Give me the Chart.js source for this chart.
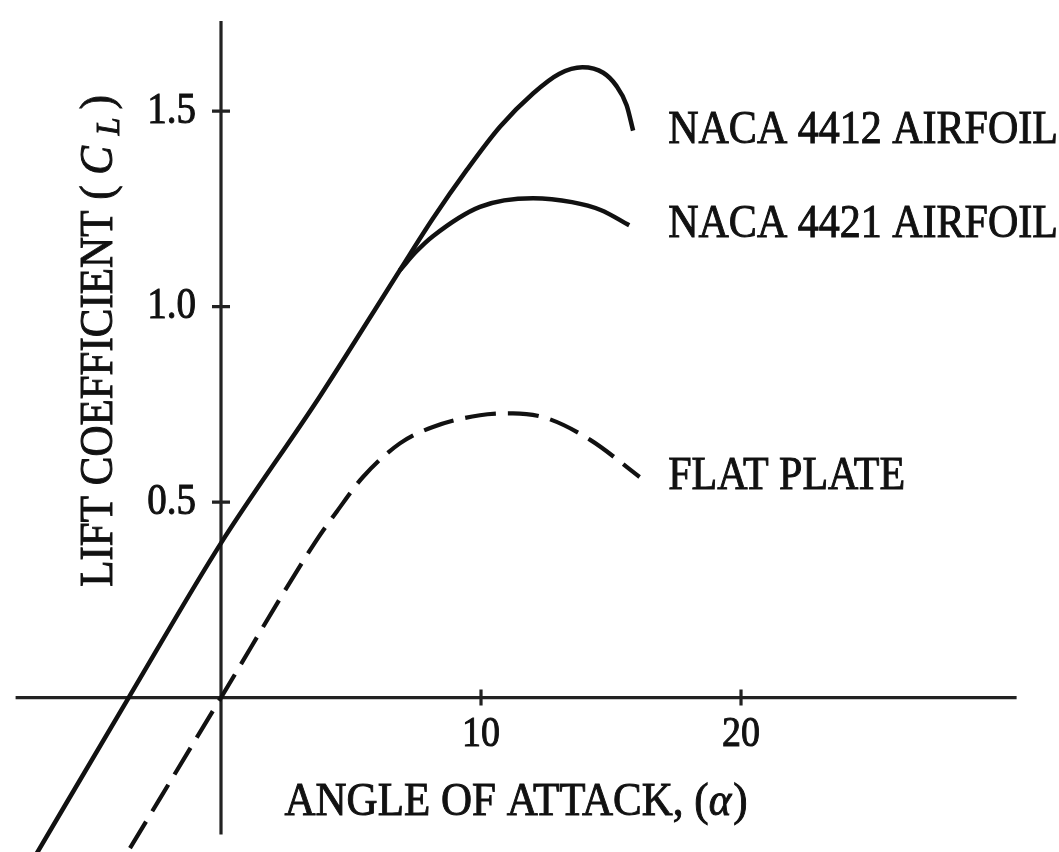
<!DOCTYPE html>
<html>
<head>
<meta charset="utf-8">
<script src="https://cdn.jsdelivr.net/npm/chart.js@4.4.0/dist/chart.umd.min.js"></script>
<style>
  html, body { margin: 0; padding: 0; background: #fff; }
  #wrap { width: 1059px; height: 852px; }
</style>
</head>
<body>
<div id="wrap"><canvas id="c"></canvas></div>
<script>
// values: angle of attack (deg) vs lift coefficient
const naca4412Alpha = [-7.1, -3.55, 0, 3.8, 6.88, 8.15, 9.46, 10.73, 12.0, 13.0, 13.9, 14.7, 15.2, 15.6, 15.85];
const naca4412Cl    = [-0.40, 0, 0.395, 0.77, 1.093, 1.225, 1.35, 1.46, 1.545, 1.595, 1.612, 1.598, 1.565, 1.515, 1.45];

const naca4421Alpha = [6.88, 7.5, 8.15, 9.96, 12.0, 13.5, 14.6, 15.7];
const naca4421Cl    = [1.093, 1.14, 1.18, 1.255, 1.277, 1.267, 1.247, 1.208];

const flatPlateAlpha = [-3.5, 0, 3.6, 4.5, 5.46, 6.88, 8.15, 9.96, 11.23, 12.5, 14.2, 16.1];
const flatPlateCl    = [-0.385, 0, 0.395, 0.48, 0.564, 0.65, 0.692, 0.722, 0.727, 0.715, 0.659, 0.564];

const seriesNames = ['NACA 4412 AIRFOIL', 'NACA 4421 AIRFOIL', 'FLAT PLATE'];
const xTicks = [10, 20];
const xTickLabels = ['10', '20'];
const yTicks = [0.5, 1.0, 1.5];
const yTickLabels = ['0.5', '1.0', '1.5'];

// how far the drawn axis lines run, in data units
const xAxisSpan = [-7.9, 30.6];
const yAxisSpan = [-0.35, 1.73];
const labelAlpha = 17.2; // curve names start here

const FONT = '"Liberation Serif", "Times New Roman", serif';
const INK = '#111';

const toPoints = (xs, ys) => xs.map((x, i) => ({ x, y: ys[i] }));

// scanned print look: a little taller and heavier than plain canvas text
function drawText(ctx, str, px, py, size, align, sy, italic) {
  ctx.save();
  ctx.translate(px, py);
  ctx.scale(1, sy || 1);
  ctx.font = (italic ? 'italic ' : '') + size + 'px ' + FONT;
  ctx.textAlign = align;
  ctx.textBaseline = 'middle';
  ctx.lineWidth = 0.9;
  ctx.strokeStyle = INK;
  ctx.fillText(str, 0, 0);
  ctx.strokeText(str, 0, 0);
  ctx.restore();
}

// axes through the origin with cross ticks, plus the hand placed texts
const sketchAxes = {
  id: 'sketchAxes',
  beforeDatasetsDraw(chart) {
    const { ctx, scales: { x, y } } = chart;
    const x0 = x.getPixelForValue(0);
    const y0 = y.getPixelForValue(0);

    ctx.save();
    ctx.strokeStyle = '#222';
    ctx.lineWidth = 3.2;
    ctx.beginPath();
    ctx.moveTo(x.getPixelForValue(xAxisSpan[0]), y0);
    ctx.lineTo(x.getPixelForValue(xAxisSpan[1]), y0);
    ctx.moveTo(x0, y.getPixelForValue(yAxisSpan[0]));
    ctx.lineTo(x0, y.getPixelForValue(yAxisSpan[1]));
    xTicks.forEach(t => {
      const px = x.getPixelForValue(t);
      ctx.moveTo(px, y0 - 8);
      ctx.lineTo(px, y0 + 8);
    });
    yTicks.forEach(t => {
      const py = y.getPixelForValue(t);
      ctx.moveTo(x0 - 9, py);
      ctx.lineTo(x0 + 9, py);
    });
    ctx.stroke();

    ctx.fillStyle = INK;
    xTicks.forEach((t, i) => drawText(ctx, xTickLabels[i], x.getPixelForValue(t), y0 + 37, 38, 'center', 1.1));
    yTicks.forEach((t, i) => drawText(ctx, yTickLabels[i], x0 - 25, y.getPixelForValue(t), 39, 'right', 1.15));

    // x title: "ANGLE OF ATTACK, (α)"
    ctx.font = '43px ' + FONT;
    const a = 'ANGLE OF ATTACK, (';
    const wa = ctx.measureText(a).width;
    ctx.font = 'italic 43px ' + FONT;
    const wb = ctx.measureText('α').width;
    ctx.font = '43px ' + FONT;
    const wc = ctx.measureText(')').width;
    let sx = 515 - (wa + wb + wc) / 2;
    drawText(ctx, a, sx, 803, 43, 'left', 1.08);
    drawText(ctx, 'α', sx + wa, 803, 43, 'left', 1.08, true);
    drawText(ctx, ')', sx + wa + wb + 2, 803, 43, 'left', 1.08);

    // y title, rotated: "LIFT COEFFICIENT (C_L)"
    ctx.save();
    ctx.translate(100, 341);
    ctx.rotate(-Math.PI / 2);
    ctx.font = '43px ' + FONT;
    const p1 = 'LIFT COEFFICIENT ( ';
    const w1 = ctx.measureText(p1).width;
    ctx.font = 'italic 43px ' + FONT;
    const w2 = ctx.measureText('C ').width;
    ctx.font = 'italic 32px ' + FONT;
    const w3 = ctx.measureText('L ').width;
    ctx.font = '43px ' + FONT;
    const w4 = ctx.measureText(')').width;
    sx = -(w1 + w2 + w3 + w4) / 2;
    drawText(ctx, p1, sx, 0, 43, 'left', 1.08);
    drawText(ctx, 'C ', sx + w1, 0, 43, 'left', 1.08, true);
    drawText(ctx, 'L ', sx + w1 + w2, 10, 32, 'left', 1.08, true);
    drawText(ctx, ')', sx + w1 + w2 + w3, 0, 43, 'left', 1.08);
    ctx.restore();

    ctx.restore();
  },
  afterDatasetsDraw(chart) {
    const { ctx, scales: { x, y } } = chart;
    ctx.save();
    ctx.fillStyle = INK;
    chart.data.datasets.forEach((ds, i) => {
      const last = ds.data[ds.data.length - 1];
      drawText(ctx, seriesNames[i], x.getPixelForValue(labelAlpha), y.getPixelForValue(last.y), 42, 'left', 1.08);
    });
    ctx.restore();
  }
};

const lineStyle = {
  borderColor: INK,
  borderWidth: 4.5,
  pointRadius: 0,
  fill: false,
  cubicInterpolationMode: 'monotone',
  clip: false
};

new Chart(document.getElementById('c'), {
  type: 'line',
  data: {
    datasets: [
      { ...lineStyle, label: seriesNames[0], data: toPoints(naca4412Alpha, naca4412Cl) },
      { ...lineStyle, label: seriesNames[1], data: toPoints(naca4421Alpha, naca4421Cl) },
      { ...lineStyle, label: seriesNames[2], data: toPoints(flatPlateAlpha, flatPlateCl), borderDash: [31, 12], borderWidth: 4.2 }
    ]
  },
  options: {
    responsive: true,
    maintainAspectRatio: false,
    animation: false,
    layout: { padding: 0 },
    plugins: { legend: { display: false }, tooltip: { enabled: false } },
    scales: {
      x: { type: 'linear', min: -8.5, max: 32.23, display: false },
      y: { type: 'linear', min: -0.395, max: 1.784, display: false }
    }
  },
  plugins: [sketchAxes]
});
</script>
</body>
</html>
